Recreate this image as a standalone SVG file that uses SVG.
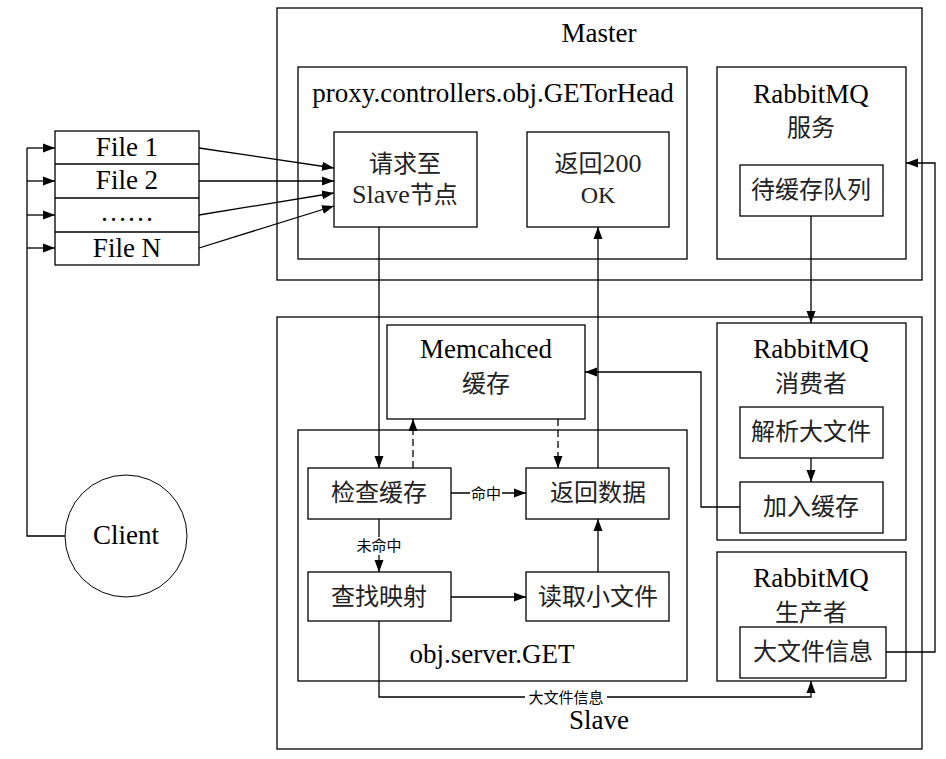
<svg xmlns="http://www.w3.org/2000/svg" width="946" height="759" viewBox="0 0 946 759">
<style>
.box{fill:#fff;stroke:#000;stroke-width:1.3}
.frame{fill:none;stroke:#000;stroke-width:1.3}
.ln{fill:none;stroke:#000;stroke-width:1.3}
.arr{marker-end:url(#ah)}
.dash{stroke-dasharray:7 4}
.t{font-family:"Liberation Serif","Noto Sans CJK SC",serif;font-size:27px;fill:#000;text-anchor:middle}
.c{font-family:"Liberation Serif","Noto Sans CJK SC",serif;font-size:24px;fill:#222;text-anchor:middle}
.s{font-family:"Noto Sans CJK SC","Liberation Sans",sans-serif;font-size:15px;fill:#000;text-anchor:middle}
.bg{fill:#fff;stroke:none}
</style>
<defs>
<marker id="ah" viewBox="0 0 12 10" refX="12" refY="5" markerWidth="12" markerHeight="10" markerUnits="userSpaceOnUse" orient="auto">
<path d="M0,0.5 L12,5 L0,9.5 Z" fill="#000"/>
</marker>
</defs>
<rect width="946" height="759" fill="#fff"/>

<g id="master">
<rect class="frame" x="277" y="8" width="645" height="272"/>
<text class="t" x="599" y="42">Master</text>
</g>
<g id="slave">
<rect class="frame" x="277" y="317" width="645" height="432"/>
<text class="t" x="599" y="729">Slave</text>
</g>

<g id="proxy">
<rect class="frame" x="298" y="67" width="389" height="192"/>
<text class="t" x="493" y="102">proxy.controllers.obj.GETorHead</text>
</g>
<g id="req">
<rect class="box" x="334" y="132" width="143" height="95"/>
<text class="c" x="405" y="172">请求至</text>
<text class="c" x="405" y="203"><tspan font-size="26">Slave</tspan>节点</text>
</g>
<g id="ret200">
<rect class="box" x="527" y="132" width="142" height="95"/>
<text class="c" x="598" y="172">返回<tspan font-size="26">200</tspan></text>
<text class="c" x="598" y="203" font-size="26">OK</text>
</g>
<g id="mqservice">
<rect class="frame" x="717" y="67" width="189" height="192"/>
<text class="t" x="811" y="103">RabbitMQ</text>
<text class="c" x="811" y="136">服务</text>
</g>
<g id="queue">
<rect class="box" x="740" y="165" width="143" height="51"/>
<text class="c" x="811" y="198">待缓存队列</text>
</g>

<g id="memcached">
<rect class="box" x="387" y="325" width="198" height="94"/>
<text class="t" x="486" y="358">Memcahced</text>
<text class="c" x="486" y="392">缓存</text>
</g>

<g id="objserver">
<rect class="frame" x="298" y="430" width="389" height="251"/>
<text class="t" x="492" y="663">obj.server.GET</text>
</g>
<g id="check">
<rect class="box" x="308" y="468" width="143" height="51"/>
<text class="c" x="379" y="501">检查缓存</text>
</g>
<g id="retdata">
<rect class="box" x="526" y="468" width="143" height="51"/>
<text class="c" x="598" y="501">返回数据</text>
</g>
<g id="lookup">
<rect class="box" x="308" y="572" width="143" height="49"/>
<text class="c" x="379" y="605">查找映射</text>
</g>
<g id="readsmall">
<rect class="box" x="526" y="572" width="143" height="49"/>
<text class="c" x="598" y="605">读取小文件</text>
</g>

<g id="consumer">
<rect class="frame" x="717" y="323" width="189" height="217"/>
<text class="t" x="811" y="358">RabbitMQ</text>
<text class="c" x="811" y="392">消费者</text>
</g>
<g id="parse">
<rect class="box" x="740" y="407" width="143" height="51"/>
<text class="c" x="811" y="440">解析大文件</text>
</g>
<g id="addcache">
<rect class="box" x="740" y="482" width="143" height="51"/>
<text class="c" x="811" y="515">加入缓存</text>
</g>

<g id="producer">
<rect class="frame" x="717" y="552" width="189" height="129"/>
<text class="t" x="811" y="587">RabbitMQ</text>
<text class="c" x="811" y="621">生产者</text>
</g>
<g id="bigfile">
<rect class="box" x="740" y="627" width="146" height="51"/>
<text class="c" x="813" y="660">大文件信息</text>
</g>

<g id="files">
<rect class="box" x="55" y="131" width="144" height="134"/>
<line class="ln" x1="55" y1="164" x2="199" y2="164"/>
<line class="ln" x1="55" y1="198" x2="199" y2="198"/>
<line class="ln" x1="55" y1="232" x2="199" y2="232"/>
<text class="t" x="127" y="156">File 1</text>
<text class="t" x="127" y="189">File 2</text>
<text class="t" x="127" y="221">……</text>
<text class="t" x="127" y="257">File N</text>
</g>

<g id="client">
<circle cx="126" cy="536" r="61" fill="#fff" stroke="#000" stroke-width="1"/>
<text class="t" x="126" y="544">Client</text>
</g>

<g id="connectors">
<polyline class="ln" points="65,536 27,536 27,148"/>
<line class="ln arr" x1="27" y1="148" x2="55" y2="148"/>
<line class="ln arr" x1="27" y1="181" x2="55" y2="181"/>
<line class="ln arr" x1="27" y1="215" x2="55" y2="215"/>
<line class="ln arr" x1="27" y1="248" x2="55" y2="248"/>

<line class="ln arr" x1="199" y1="148" x2="334" y2="168"/>
<line class="ln arr" x1="199" y1="181" x2="334" y2="181"/>
<line class="ln arr" x1="199" y1="215" x2="334" y2="193"/>
<line class="ln arr" x1="199" y1="248" x2="334" y2="206"/>

<line class="ln arr" x1="379" y1="227" x2="379" y2="468"/>
<line class="ln arr dash" x1="413" y1="468" x2="413" y2="419"/>
<line class="ln arr dash" x1="558" y1="419" x2="558" y2="468"/>
<line class="ln arr" x1="598" y1="468" x2="598" y2="227"/>

<line class="ln arr" x1="451" y1="493" x2="526" y2="493"/>
<rect class="bg" x="470" y="484" width="32" height="18"/>
<text class="s" x="486" y="499">命中</text>

<line class="ln arr" x1="379" y1="519" x2="379" y2="572"/>
<rect class="bg" x="355" y="537" width="48" height="18"/>
<text class="s" x="379" y="551">未命中</text>

<line class="ln arr" x1="451" y1="597" x2="526" y2="597"/>
<line class="ln arr" x1="598" y1="572" x2="598" y2="519"/>

<polyline class="ln arr" points="379,621 379,697 811,697 811,681"/>
<rect class="bg" x="525" y="688" width="82" height="18"/>
<text class="s" x="566" y="703">大文件信息</text>

<polyline class="ln arr" points="886,652 935,652 935,163 906,163"/>
<line class="ln arr" x1="811" y1="216" x2="811" y2="323"/>
<line class="ln arr" x1="811" y1="458" x2="811" y2="482"/>
<polyline class="ln arr" points="740,507 701,507 701,372 585,372"/>
</g>
</svg>
